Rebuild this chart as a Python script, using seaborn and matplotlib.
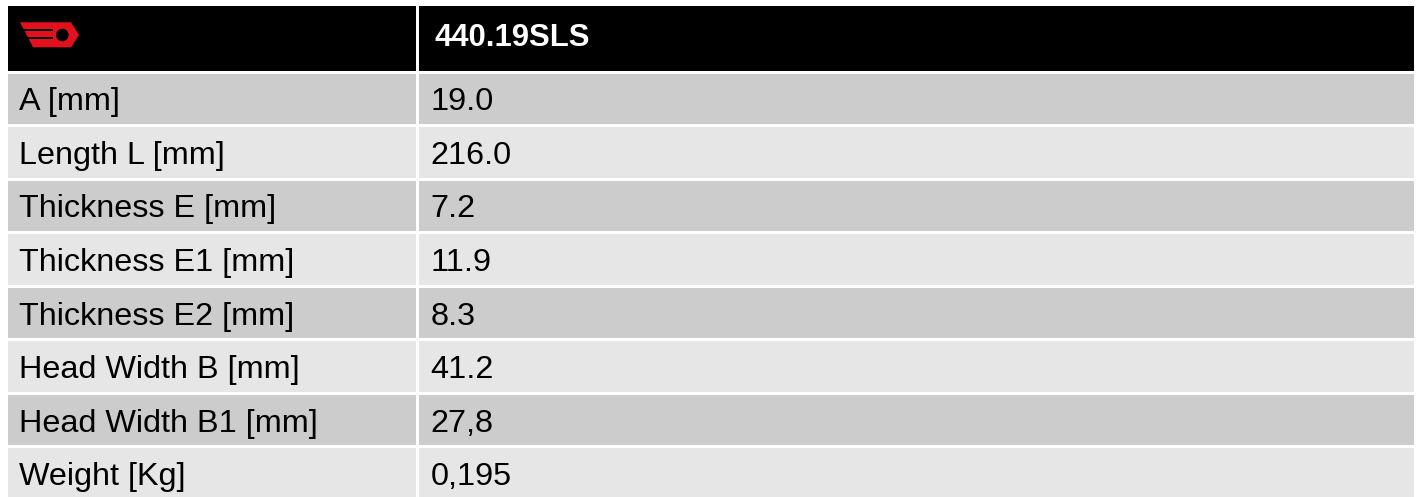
import numpy as np
import matplotlib
matplotlib.use("Agg")
import matplotlib.pyplot as plt
from matplotlib.colors import ListedColormap
from matplotlib.patches import Polygon, Rectangle, Circle
import seaborn as sns

# ---- data ----
header_title = "440.19SLS"
row_labels = ["A [mm]", "Length L [mm]", "Thickness E [mm]", "Thickness E1 [mm]",
              "Thickness E2 [mm]", "Head Width B [mm]", "Head Width B1 [mm]", "Weight [Kg]"]
row_values = ["19.0", "216.0", "7.2", "11.9", "8.3", "41.2", "27,8", "0,195"]
row_shade = [1, 2, 1, 2, 1, 2, 1, 2]   # 1 = dark grey band, 2 = light grey band
header_shade = [0]                     # 0 = black header

sns.set_theme(style="white")
plt.rcParams['font.family'] = ['Liberation Sans', 'DejaVu Sans']

W, H = 1419, 497
fig = plt.figure(figsize=(W / 100, H / 100), dpi=100)
fig.patch.set_facecolor("white")

def rect(x0, y0, x1, y1):
    return [x0 / W, 1 - y1 / H, (x1 - x0) / W, (y1 - y0) / H]

cmap = ListedColormap(["#000000", "#CCCCCC", "#E6E6E6"])
lw = 3 * 72 / 100  # 3 px white gap

xl0, xsplit, xr1 = 5.5, 416.8, 1414.5
yh0, yh1 = 3.5, 71.5
pitch = 53.56
yb1 = yh1 + pitch * len(row_labels)

def cell_heatmap(ax, values):
    sns.heatmap(np.array(values).reshape(-1, 1), cmap=cmap, vmin=0, vmax=2,
                cbar=False, linewidths=lw, linecolor="white",
                xticklabels=False, yticklabels=False, ax=ax)
    ax.set_xlabel("")
    ax.set_ylabel("")

ax_hl = fig.add_axes(rect(xl0, yh0, xsplit, yh1))
ax_hr = fig.add_axes(rect(xsplit, yh0, xr1, yh1))
ax_bl = fig.add_axes(rect(xl0, yh1, xsplit, yb1))
ax_br = fig.add_axes(rect(xsplit, yh1, xr1, yb1))
for ax in (ax_hl, ax_hr):
    cell_heatmap(ax, header_shade)
for ax in (ax_bl, ax_br):
    cell_heatmap(ax, row_shade)

# header text
ax_hr.annotate(header_title, xy=(0, 0.62), xytext=(17.5, 0), textcoords="offset pixels",
               ha="left", va="baseline", fontsize=22.3, fontweight="bold", color="white")

# body text
for i, (lab, val) in enumerate(zip(row_labels, row_values)):
    ax_bl.annotate(lab, xy=(0, i + 0.725), xytext=(13.5, 0), textcoords="offset pixels",
                   ha="left", va="baseline", fontsize=23.3, color="black")
    ax_br.annotate(val, xy=(0, i + 0.725), xytext=(13.5, 0), textcoords="offset pixels",
                   ha="left", va="baseline", fontsize=23.3, color="black")

# logo overlay (pixel coordinates)
ax_o = fig.add_axes([0, 0, 1, 1])
ax_o.set_xlim(0, W)
ax_o.set_ylim(H, 0)
ax_o.axis("off")
ax_o.patch.set_alpha(0)
red = "#E3101E"
ax_o.add_patch(Polygon([(20, 22.3), (71, 22.3), (79, 35), (71, 47.3), (33, 47.3)],
                       closed=True, facecolor=red, edgecolor="none"))
ax_o.add_patch(Rectangle((15, 29.0), 53.3 - 15, 1.8, facecolor="black", edgecolor="none"))
ax_o.add_patch(Rectangle((15, 37.1), 53.3 - 15, 1.9, facecolor="black", edgecolor="none"))
ax_o.add_patch(Circle((62.3, 35), 6.3, facecolor="black", edgecolor="none"))

fig.savefig("out.png", dpi=100)
